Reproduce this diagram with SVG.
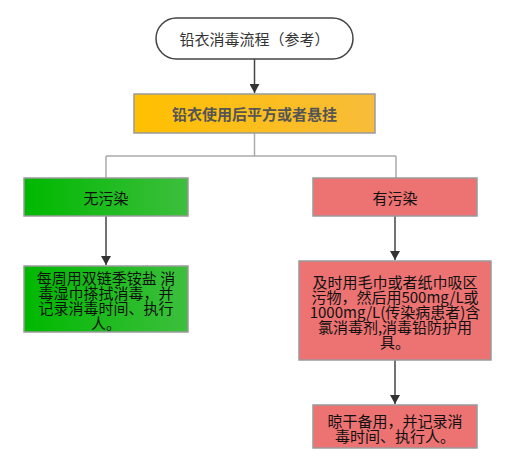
<svg xmlns="http://www.w3.org/2000/svg" width="514" height="467" viewBox="0 0 514 467">
<defs>
<linearGradient id="gOrange" x1="0" y1="0" x2="1" y2="0"><stop offset="0" stop-color="#FFC000"/><stop offset="1" stop-color="#F8BC3A"/></linearGradient>
<linearGradient id="gGreen" x1="0" y1="0" x2="1" y2="0"><stop offset="0" stop-color="#00B800"/><stop offset="1" stop-color="#3DBF3D"/></linearGradient>
<marker id="arr" markerWidth="10" markerHeight="10" refX="9" refY="5" orient="auto" markerUnits="userSpaceOnUse" viewBox="0 0 10 10">
<path d="M0,0 L9,5 L0,10 Z" fill="#333"/>
</marker>
<style>
text{font-family:"Noto Sans CJK SC","Noto Sans",sans-serif;font-size:15px;text-anchor:middle;dominant-baseline:central;fill:#111}
.box{stroke:#9a9a9a;stroke-width:1.5}
.red{fill:#ED7272}
.conn{fill:none;stroke:#444;stroke-width:1.5}
.thin{fill:none;stroke:#aaa;stroke-width:1.5}
</style>
</defs>
<g id="connectors">
<path class="conn" d="M254.5,59 L254.5,93" marker-end="url(#arr)"/>
<path class="thin" d="M254.5,133 L254.5,156 M106,156 L396,156 M106,156 L106,178 M396,156 L396,178"/>
<path class="conn" d="M106,216 L106,265" marker-end="url(#arr)"/>
<path class="conn" d="M395,216 L395,260" marker-end="url(#arr)"/>
<path class="conn" d="M395,360 L395,404" marker-end="url(#arr)"/>
</g>
<g id="start">
<rect x="156" y="18" width="197" height="41" rx="20.5" fill="#fff" stroke="#444" stroke-width="1.5"/>
<text x="254.5" y="38.5" style="fill:#333">铅衣消毒流程（参考）</text>
</g>
<g id="hang">
<rect class="box" x="134" y="94" width="241" height="39" fill="url(#gOrange)"/>
<text x="254.5" y="113.5" style="fill:#555;font-weight:bold">铅衣使用后平方或者悬挂</text>
</g>
<g id="clean">
<rect class="box" x="24" y="178" width="164" height="38" fill="url(#gGreen)"/>
<text x="106" y="197">无污染</text>
</g>
<g id="clean-step">
<rect class="box" x="24" y="266" width="164" height="66" fill="url(#gGreen)"/>
<text><tspan x="106" y="277">每周用双链季铵盐 消</tspan><tspan x="106" y="292">毒湿巾搽拭消毒，并</tspan><tspan x="106" y="307">记录消毒时间、执行</tspan><tspan x="106" y="322">人。</tspan></text>
</g>
<g id="dirty">
<rect class="box red" x="313" y="178" width="164" height="38"/>
<text x="395" y="197">有污染</text>
</g>
<g id="dirty-step">
<rect class="box red" x="299" y="261" width="192" height="99"/>
<text><tspan x="395" y="281">及时用毛巾或者纸巾吸区</tspan><tspan x="395" y="296">污物，然后用500mg/L或</tspan><tspan x="395" y="311">1000mg/L(传染病患者)含</tspan><tspan x="395" y="326">氯消毒剂,消毒铅防护用</tspan><tspan x="395" y="341">具。</tspan></text>
</g>
<g id="dry">
<rect class="box red" x="313" y="405" width="164" height="43"/>
<text><tspan x="395" y="420">晾干备用，并记录消</tspan><tspan x="395" y="435">毒时间、执行人。</tspan></text>
</g>
</svg>
